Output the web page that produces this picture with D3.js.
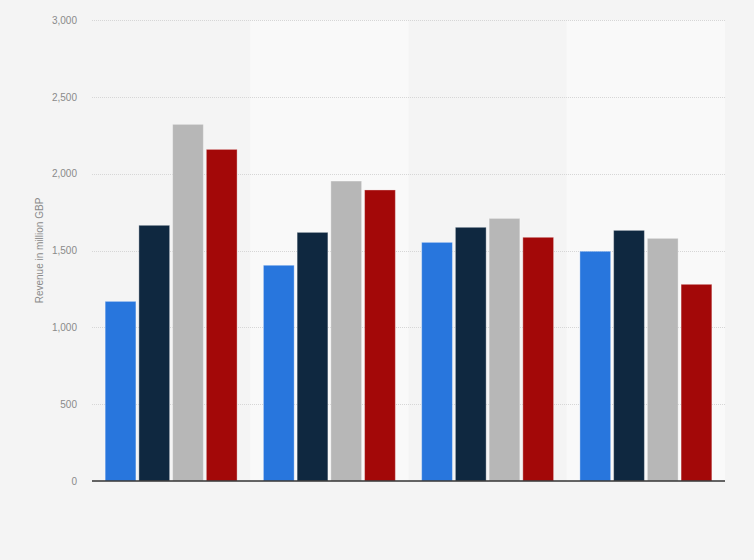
<!DOCTYPE html>
<html>
<head>
<meta charset="utf-8">
<script src="https://cdn.jsdelivr.net/npm/d3@7"></script>
<style>
  body { margin: 0; background: #f4f4f4; }
  .tick text { font-family: "Liberation Sans", Arial, sans-serif; font-size: 10px; fill: #8a8a8a; }
</style>
</head>
<body>
<div id="chart"></div>
<script>
// chart data
var groups = ['G1', 'G2', 'G3', 'G4'];
var seriesNames = ['S1', 'S2', 'S3', 'S4'];
var series1 = [1169, 1404, 1553, 1495];
var series2 = [1664, 1618, 1651, 1631];
var series3 = [2321, 1952, 1709, 1579];
var series4 = [2158, 1894, 1586, 1280];
var yTicks = [0, 500, 1000, 1500, 2000, 2500, 3000];
var colors = ['#2876dd', '#0f2840', '#b7b7b7', '#a30808'];

var svgWidth = 754,
  svgHeight = 560;

var margin = { t: 20, r: 29, b: 79, l: 92 };
var width = svgWidth - margin.l - margin.r,
  height = svgHeight - margin.t - margin.b;

var svg = d3.select('#chart')
  .append('svg')
  .attr('width', svgWidth)
  .attr('height', svgHeight)
  .style('display', 'block');

svg.append('rect')
  .attr('width', svgWidth)
  .attr('height', svgHeight)
  .attr('fill', '#f4f4f4');

var chartGroup = svg.append('g')
  .attr('transform', `translate(${margin.l},${margin.t})`);

var allSeries = [series1, series2, series3, series4];
var rows = groups.map((g, i) => ({
  group: g,
  values: seriesNames.map((s, j) => ({ key: s, value: allSeries[j][i], color: colors[j] }))
}));

var x0 = d3.scaleBand().domain(groups).range([0, width]).padding(0);
var x1 = d3.scaleBand().domain(seriesNames).range([0, x0.bandwidth()])
  .paddingInner(0.088).paddingOuter(0.39);
var yScale = d3.scaleLinear().domain([0, 3000]).range([height, 0]);

// alternating bands
chartGroup.selectAll('.band')
  .data(groups.filter((g, i) => i % 2 === 1))
  .enter()
  .append('rect')
  .attr('x', d => x0(d))
  .attr('y', 0)
  .attr('width', x0.bandwidth())
  .attr('height', height)
  .attr('fill', '#f9f9f9');

// grid lines
chartGroup.selectAll('.grid')
  .data(yTicks.filter(t => t > 0))
  .enter()
  .append('line')
  .attr('x1', 0)
  .attr('x2', width)
  .attr('y1', d => Math.round(yScale(d)) + 0.5)
  .attr('y2', d => Math.round(yScale(d)) + 0.5)
  .attr('stroke', '#d6d6d6')
  .attr('stroke-dasharray', '1,1');

// y axis labels
var yAxis = chartGroup.append('g')
  .call(d3.axisLeft(yScale).tickValues(yTicks).tickSize(0).tickPadding(15)
    .tickFormat(d3.format(',')));
yAxis.select('.domain').remove();

// bars
var groupG = chartGroup.selectAll('.grp')
  .data(rows)
  .enter()
  .append('g')
  .attr('transform', d => `translate(${x0(d.group)},0)`);

groupG.selectAll('rect')
  .data(d => d.values)
  .enter()
  .append('rect')
  .attr('x', d => x1(d.key))
  .attr('y', d => yScale(d.value))
  .attr('width', x1.bandwidth())
  .attr('height', d => height - yScale(d.value))
  .attr('fill', d => d.color)
  .attr('stroke', 'rgba(255,255,255,0.35)')
  .attr('stroke-width', 1);

// baseline
chartGroup.append('line')
  .attr('x1', 0)
  .attr('x2', width)
  .attr('y1', height)
  .attr('y2', height)
  .attr('stroke', '#333')
  .attr('stroke-width', 1.5);

// y axis title
svg.append('text')
  .attr('transform', `translate(43,${margin.t + height / 2})rotate(-90)`)
  .attr('text-anchor', 'middle')
  .style('font-family', '"Liberation Sans", Arial, sans-serif')
  .style('font-size', '10px')
  .style('fill', '#8a8a8a')
  .text('Revenue in million GBP');
</script>
</body>
</html>
